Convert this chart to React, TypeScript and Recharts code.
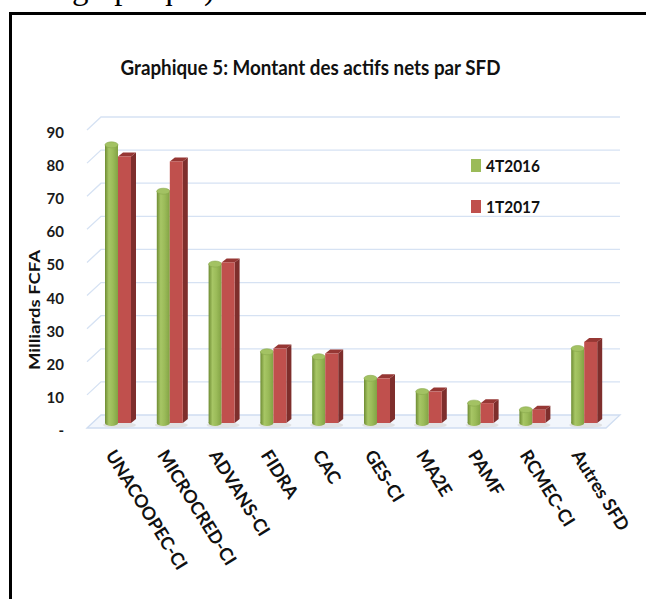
import React from 'react';
import { BarChart, Bar, XAxis, YAxis, CartesianGrid, Legend } from 'recharts';

const categories = ['UNACOOPEC-CI', 'MICROCRED-CI', 'ADVANS-CI', 'FIDRA', 'CAC', 'GES-CI', 'MA2E', 'PAMF', 'RCMEC-CI', 'Autres SFD'];
const values4T2016 = [84, 70, 48, 21.5, 20, 13.5, 9.5, 6, 4, 22.5];
const values1T2017 = [80.5, 79, 48.5, 22.5, 21, 13.5, 9.5, 6, 4, 24.5];
const yTicks = [0, 10, 20, 30, 40, 50, 60, 70, 80, 90];
const seriesNames = ['4T2016', '1T2017'];
const seriesColors = ['#9BBB59', '#C0504D'];
const chartTitle = 'Graphique 5: Montant des actifs nets par SFD';
const yAxisTitle = 'Milliards FCFA';
const cutText = 'graphique)';

const data = categories.map((name, i) => ({ name, s1: values4T2016[i], s2: values1T2017[i] }));

const FONT = 'Lato, "Liberation Sans", sans-serif';

const GreenCylinder = (props: any) => {
  const { x, y, width, height, index } = props;
  if (!(height > 0)) return null;
  const rx = width / 2;
  const ry = 3;
  const gid = `gcyl-${index}`;
  return (
    <g>
      <defs>
        <linearGradient id={gid} x1="0" y1="0" x2="1" y2="0">
          <stop offset="0%" stopColor="#6E8C33" />
          <stop offset="30%" stopColor="#A7C665" />
          <stop offset="60%" stopColor="#9BBB59" />
          <stop offset="100%" stopColor="#82A244" />
        </linearGradient>
      </defs>
      <ellipse cx={x + rx + 8} cy={y + height + 2} rx={rx + 10} ry={3} fill="#D8D8D8" opacity={0.7} />
      <rect x={x} y={y} width={width} height={height} fill={`url(#${gid})`} />
      <ellipse cx={x + rx} cy={y + height} rx={rx} ry={ry} fill={`url(#${gid})`} />
      <ellipse cx={x + rx} cy={y} rx={rx} ry={ry} fill="#A3C263" stroke="#88A84B" strokeWidth={0.6} />
    </g>
  );
};

const RedBox = (props: any) => {
  const { x, y, width, height } = props;
  if (!(height > 0)) return null;
  const d = 5;
  const e = 4;
  return (
    <g>
      <polygon
        points={`${x + width},${y} ${x + width + d},${y - e} ${x + width + d},${y + height - e} ${x + width},${y + height}`}
        fill="#7E2E2C"
      />
      <polygon
        points={`${x},${y} ${x + d},${y - e} ${x + width + d},${y - e} ${x + width},${y}`}
        fill="#963734"
      />
      <rect x={x} y={y} width={width} height={height} fill="#C0504D" />
    </g>
  );
};

const gridLine = (p: any) => {
  const { x1, x2, y1 } = p;
  const front = y1 + 5;
  const back = y1 - 8;
  const bottom = (p.y ?? 0) + (p.height ?? 0);
  const isFloor = Math.abs(y1 - bottom) < 1;
  if (isFloor) {
    return (
      <g key={`gl-${y1}`}>
        <polygon
          points={`${x1 - 5},${front} ${x1 + 9},${back} ${x2 + 10},${back} ${x2 - 4},${front}`}
          fill="#F2F6FC"
          stroke="#CFDDF1"
          strokeWidth={1.3}
        />
      </g>
    );
  }
  return (
    <g key={`gl-${y1}`}>
      <polyline
        points={`${x1 - 5},${front} ${x1 + 9},${back} ${x2 + 10},${back}`}
        fill="none"
        stroke="#D6E2F3"
        strokeWidth={1.3}
      />
    </g>
  );
};

const YTick = (props: any) => {
  const { x, y, payload } = props;
  const v = payload.value;
  return (
    <text x={x - 20} y={y + 13} textAnchor="end" fontFamily={FONT} fontWeight="bold" fontSize={15} fill="#1a1a1a">
      {v === 0 ? '-' : String(v)}
    </text>
  );
};

const XTick = (props: any) => {
  const { x, y, payload } = props;
  return (
    <g transform={`translate(${x - 13},${y + 24})`}>
      <text x={0} y={0} transform="rotate(58)" textAnchor="start" fontFamily={FONT} fontWeight="bold" fontSize={18} fill="#111">
        {payload.value}
      </text>
    </g>
  );
};

const LegendContent = () => (
  <svg width={100} height={60} style={{ overflow: 'visible' }}>
    {seriesNames.map((n, i) => (
      <g key={n} transform={`translate(0, ${i * 41})`}>
        <rect x={0} y={0} width={10} height={13} fill={seriesColors[i]} />
        <text x={15} y={13} fontSize={17} fontWeight="bold" fontFamily={FONT} fill="#111" textLength={54} lengthAdjust="spacingAndGlyphs">
          {n}
        </text>
      </g>
    ))}
  </svg>
);

export default function App() {
  return (
    <div style={{ position: 'absolute', left: 0, top: 0, width: 646, height: 599, overflow: 'hidden', background: '#fff' }}>
      <svg width={646} height={20} style={{ position: 'absolute', left: 0, top: 0 }}>
        <text x={72} y={-1} fontFamily='"Liberation Serif", serif' fontSize={33} fill="#000">
          {cutText}
        </text>
      </svg>
      <div
        style={{
          position: 'absolute',
          left: 9,
          top: 12,
          width: 800,
          height: 800,
          border: '3px solid #000',
          boxSizing: 'border-box',
        }}
      />
      <div style={{ position: 'absolute', left: 0, top: 0 }}>
        <BarChart
          width={646}
          height={599}
          data={data}
          margin={{ top: 125, right: 36, left: 32, bottom: 26 }}
          barSize={13}
          barGap={0}
        >
          <CartesianGrid horizontal={gridLine} vertical={false} />
          <XAxis dataKey="name" interval={0} axisLine={false} tickLine={false} height={150} tick={<XTick />} />
          <YAxis domain={[0, 90]} ticks={yTicks} interval={0} axisLine={false} tickLine={false} width={60} tick={<YTick />} />
          <Legend
            layout="horizontal"
            verticalAlign="middle"
            align="center"
            content={<LegendContent />}
            wrapperStyle={{ left: 471, top: 159, width: 100, height: 60 }}
          />
          <Bar dataKey="s1" name={seriesNames[0]} fill={seriesColors[0]} shape={<GreenCylinder />} isAnimationActive={false} />
          <Bar dataKey="s2" name={seriesNames[1]} fill={seriesColors[1]} shape={<RedBox />} isAnimationActive={false} />
        </BarChart>
      </div>
      <svg width={646} height={599} style={{ position: 'absolute', left: 0, top: 0, pointerEvents: 'none' }}>
        <text x={120.5} y={75} fontFamily={FONT} fontWeight="bold" fontSize={21} fill="#111" textLength={380} lengthAdjust="spacingAndGlyphs">
          {chartTitle}
        </text>
        <text
          x={0}
          y={0}
          transform="translate(40,310) rotate(-90)"
          textAnchor="middle"
          fontFamily={FONT}
          fontWeight="bold"
          fontSize={14.5}
          fill="#111"
          textLength={120}
          lengthAdjust="spacingAndGlyphs"
        >
          {yAxisTitle}
        </text>
      </svg>
    </div>
  );
}
